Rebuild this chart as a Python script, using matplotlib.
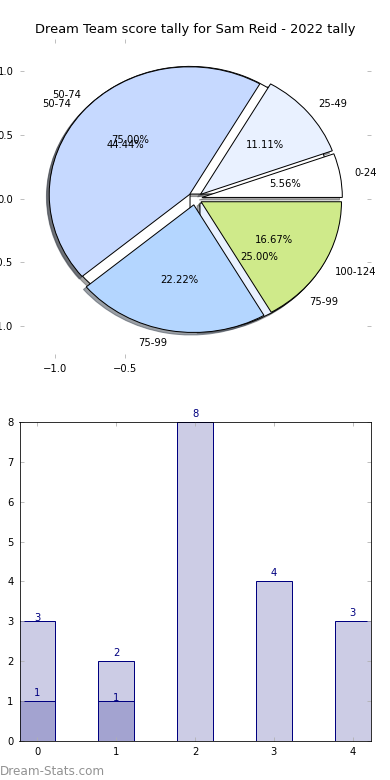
import matplotlib
matplotlib.use('Agg')
import matplotlib.pyplot as plt

# pie data
bands = ['0-24', '25-49', '50-74', '75-99', '100-124']
counts = [1, 2, 8, 4, 3]
pie_colors = ['#ffffff', '#e9f1ff', '#c6d9ff', '#b4d6ff', '#cfea8a']
bands2 = ['50-74', '75-99']
counts2 = [3, 1]
pie2_colors = ['#ffffff', '#e9f1ff']

# bar data
bar_x = [0, 1, 2, 3, 4]
bar_all = [3, 2, 8, 4, 3]
bar_sub = [1, 1, 0, 0, 0]

title = 'Dream Team score tally for Sam Reid - 2022 tally'

plt.rcParams['font.size'] = 10
plt.rcParams['xtick.direction'] = 'in'
plt.rcParams['ytick.direction'] = 'in'
plt.rcParams['xtick.top'] = True
plt.rcParams['ytick.right'] = True
plt.rcParams['xtick.color'] = '#b0b0b0'
plt.rcParams['ytick.color'] = '#b0b0b0'
plt.rcParams['xtick.labelcolor'] = 'black'
plt.rcParams['ytick.labelcolor'] = 'black'
plt.rcParams['xtick.major.size'] = 4
plt.rcParams['ytick.major.size'] = 4
plt.rcParams['xtick.major.pad'] = 6
plt.rcParams['ytick.major.pad'] = 6

fig, (ax, ax2) = plt.subplots(2, 1, figsize=(390 / 72, 780 / 72), dpi=72)
fig.subplots_adjust(left=0.05, right=0.95, top=0.95, bottom=0.05, hspace=0.2)

wp = {'edgecolor': 'black', 'linewidth': 1}
ax.pie(counts2, labels=bands2, colors=pie2_colors, explode=[0.05] * len(counts2),
       autopct='%1.2f%%', shadow=True, wedgeprops=wp)
ax.pie(counts, labels=bands, colors=pie_colors, explode=[0.05] * len(counts),
       autopct='%1.2f%%', shadow=True, wedgeprops=wp)
ax.set_aspect('auto')
ax.set_xlim(-1.25, 1.25)
ax.set_ylim(-1.25, 1.25)
ax.set_xticks([-1.0, -0.5])
ax.set_yticks([-1.0, -0.5, 0.0, 0.5, 1.0])
ax.set_frame_on(False)
ax.set_title(title, fontsize=13)

# bars
ax2.bar(bar_x, bar_all, width=0.45, color=(0, 0, 0.5, 0.2), edgecolor='navy')
sx = [x for x, v in zip(bar_x, bar_sub) if v > 0]
sv = [v for v in bar_sub if v > 0]
ax2.bar(sx, sv, width=0.45, color=(0, 0, 0.5, 0.2), edgecolor='navy')
for x, v in zip(bar_x, bar_all):
    if x == 0:
        ax2.text(x, v - 0.05, str(v), ha='center', va='bottom', color='navy', zorder=0.5)
    else:
        ax2.text(x, v + 0.08, str(v), ha='center', va='bottom', color='navy')
for x, v in zip(sx, sv):
    off = 0.08 if x == 0 else -0.05
    ax2.text(x, v + off, str(v), ha='center', va='bottom', color='navy')
ax2.set_xlim(-0.225, 4.225)
ax2.set_ylim(0, 8)
ax2.set_xticks(bar_x)
ax2.set_yticks(range(0, 9))

fig.text(0.0, 0.003, 'Dream-Stats.com', fontsize=12, color='#929292', ha='left', va='bottom')

fig.savefig('out.png', dpi=72)
